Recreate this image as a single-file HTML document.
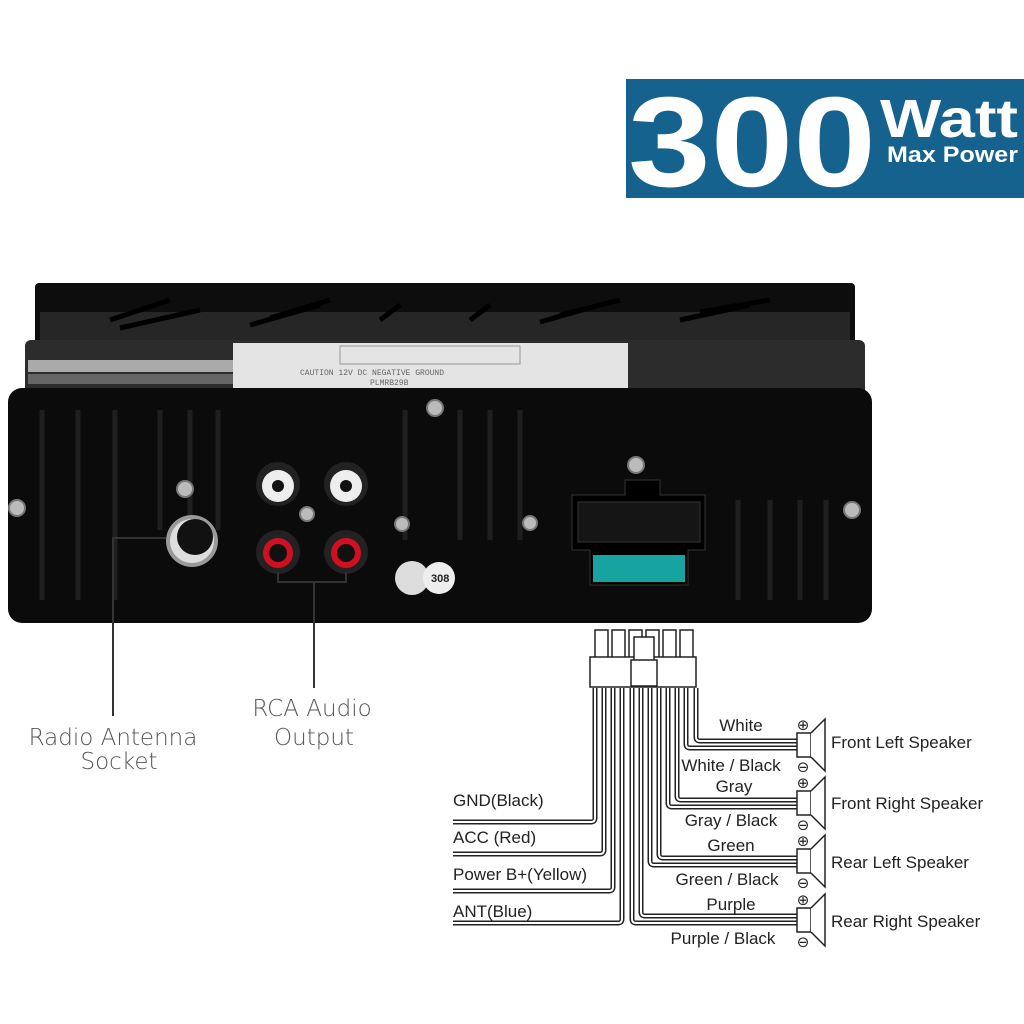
<!DOCTYPE html>
<html><head><meta charset="utf-8"><style>
html,body{margin:0;padding:0;background:#fff;width:1024px;height:1024px;overflow:hidden}
svg{display:block}
.t{font-family:"Liberation Sans",sans-serif;fill:#222;font-size:17px}
.c{font-family:"DejaVu Sans","Liberation Sans",sans-serif;fill:#555;font-size:23px;font-weight:300}
</style></head><body>
<svg width="1024" height="1024" viewBox="0 0 1024 1024" xmlns="http://www.w3.org/2000/svg">
<rect x="626" y="79" width="398" height="119" fill="#15628f"/>
<text x="628" y="186" font-family="Liberation Sans,sans-serif" font-weight="bold" font-size="128" fill="#fff" textLength="248" lengthAdjust="spacingAndGlyphs">300</text>
<text x="880" y="137" font-family="Liberation Sans,sans-serif" font-weight="bold" font-size="54" fill="#fff" textLength="138" lengthAdjust="spacingAndGlyphs">Watt</text>
<text x="887" y="162" font-family="Liberation Sans,sans-serif" font-weight="bold" font-size="22" fill="#fff" textLength="131" lengthAdjust="spacingAndGlyphs">Max Power</text>

<rect x="35" y="283" width="820" height="70" rx="4" fill="#0d0d0d"/>
<path d="M40 312 L850 312 L850 340 L40 340 Z" fill="#262626"/>
<g stroke="#000" stroke-width="5" fill="none">
<path d="M110 320 L170 300 M120 328 L200 310"/><path d="M250 325 L320 305 M270 318 L330 300"/>
<path d="M380 320 L400 305 M470 320 L490 305"/><path d="M540 322 L600 305 M560 315 L620 300"/><path d="M680 320 L750 305 M700 312 L770 300"/>
</g>
<rect x="25" y="340" width="840" height="55" rx="6" fill="#2c2c2c"/>
<rect x="28" y="360" width="205" height="12" fill="#aaa"/>
<rect x="28" y="374" width="205" height="10" fill="#666"/>
<rect x="233" y="343" width="395" height="46" fill="#e4e4e4"/>
<rect x="340" y="346" width="180" height="18" fill="none" stroke="#999"/>
<g font-family="Liberation Mono,monospace" font-size="8" fill="#666"><text x="300" y="375">CAUTION 12V DC NEGATIVE GROUND</text><text x="370" y="385">PLMRB29B</text></g>
<rect x="8" y="388" width="864" height="235" rx="14" fill="#0b0b0b"/>
<g fill="none" stroke="#1f1f1f" stroke-width="5">
<path d="M42 410V600M78 410V600M115 410V600M160 410V530M190 410V530M218 410V530M405 410V540M460 410V540M490 410V540M520 410V540M738 500V600M770 500V600M800 500V600M826 500V600"/>
</g>
<g fill="#bbb" stroke="#777" stroke-width="2">
<circle cx="17" cy="508" r="8"/><circle cx="852" cy="510" r="8"/><circle cx="185" cy="489" r="8"/><circle cx="307" cy="514" r="7"/>
<circle cx="435" cy="408" r="8"/><circle cx="402" cy="524" r="7"/><circle cx="530" cy="523" r="7"/><circle cx="636" cy="465" r="8"/>
</g>
<circle cx="192" cy="541" r="26" fill="#999"/><circle cx="192" cy="541" r="22" fill="#ddd"/><circle cx="195" cy="537" r="18" fill="#111"/>
<g><circle cx="278" cy="484" r="22" fill="#222"/><circle cx="278" cy="486" r="16" fill="#eee"/><circle cx="278" cy="486" r="6" fill="#111"/>
<circle cx="346" cy="484" r="22" fill="#222"/><circle cx="346" cy="486" r="16" fill="#eee"/><circle cx="346" cy="486" r="6" fill="#111"/>
<circle cx="278" cy="552" r="22" fill="#222"/><circle cx="278" cy="553" r="15" fill="#d01020"/><circle cx="278" cy="553" r="9" fill="#111"/>
<circle cx="346" cy="552" r="22" fill="#222"/><circle cx="346" cy="553" r="15" fill="#d01020"/><circle cx="346" cy="553" r="9" fill="#111"/></g>
<circle cx="412" cy="578" r="17" fill="#ddd"/><circle cx="439" cy="578" r="16" fill="#eee"/>
<text x="431" y="582" font-family="Liberation Sans,sans-serif" font-size="11" font-weight="bold" fill="#222">308</text>
<path d="M625 480 H660 V495 H705 V550 H688 V585 H590 V550 H572 V495 H625Z" fill="#000" stroke="#333"/>
<g fill="#151515" stroke="#333"><rect x="578" y="502" width="122" height="40"/></g>
<rect x="593" y="555" width="92" height="27" fill="#17a3a0"/>
<g stroke="#333" stroke-width="2" fill="none">
<path d="M166 538 H113 V716"/><path d="M278 572 V582 H346 V572 M314 582 V688"/>
</g>
<text class="c" x="113" y="745" text-anchor="middle">Radio Antenna</text>
<text class="c" x="119" y="769" text-anchor="middle">Socket</text>
<text class="c" x="312" y="716" text-anchor="middle">RCA Audio</text>
<text class="c" x="314" y="745" text-anchor="middle">Output</text>

<g fill="#fff" stroke="#222" stroke-width="1.5">
<rect x="595" y="630" width="13" height="32"/><rect x="612" y="630" width="13" height="32"/><rect x="629" y="630" width="13" height="32"/><rect x="646" y="630" width="13" height="32"/><rect x="663" y="630" width="13" height="32"/><rect x="680" y="630" width="13" height="32"/>
<rect x="590" y="657" width="106" height="30"/>
<rect x="634" y="637" width="20" height="48"/><rect x="631" y="660" width="26" height="26"/>
</g>
<g fill="none" stroke-linejoin="round">
<g stroke="#222" stroke-width="5">
<path d="M595 688V818Q595 822 591 822H453"/><path d="M604 688V850Q604 854 600 854H453"/><path d="M613 688V887Q613 891 609 891H453"/><path d="M622 688V919Q622 923 618 923H453"/>
<path d="M632 688V919Q632 923 636 923H801"/><path d="M641 688V912Q641 916 645 916H801"/><path d="M650 688V861Q650 865 654 865H801"/><path d="M659 688V854Q659 858 663 858H801"/>
<path d="M668 688V803Q668 807 672 807H801"/><path d="M677 688V796Q677 800 681 800H801"/><path d="M686 688V744Q686 748 690 748H801"/><path d="M696 688V737Q696 741 700 741H801"/>
</g>
<g stroke="#fff" stroke-width="2">
<path d="M595 688V818Q595 822 591 822H453"/><path d="M604 688V850Q604 854 600 854H453"/><path d="M613 688V887Q613 891 609 891H453"/><path d="M622 688V919Q622 923 618 923H453"/>
<path d="M632 688V919Q632 923 636 923H801"/><path d="M641 688V912Q641 916 645 916H801"/><path d="M650 688V861Q650 865 654 865H801"/><path d="M659 688V854Q659 858 663 858H801"/>
<path d="M668 688V803Q668 807 672 807H801"/><path d="M677 688V796Q677 800 681 800H801"/><path d="M686 688V744Q686 748 690 748H801"/><path d="M696 688V737Q696 741 700 741H801"/>
</g>
</g>
<g fill="#fff" stroke="#222" stroke-width="1.5">
<g><rect x="797" y="733" width="14" height="24"/><path d="M811 733 L825 719 V771 L811 757"/></g>
<g transform="translate(0,58)"><rect x="797" y="733" width="14" height="24"/><path d="M811 733 L825 719 V771 L811 757"/></g>
<g transform="translate(0,116)"><rect x="797" y="733" width="14" height="24"/><path d="M811 733 L825 719 V771 L811 757"/></g>
<g transform="translate(0,175)"><rect x="797" y="733" width="14" height="24"/><path d="M811 733 L825 719 V771 L811 757"/></g>
</g>
<g font-family="DejaVu Sans,sans-serif" font-size="15" fill="#222" text-anchor="middle">
<text x="803" y="730">⊕</text><text x="803" y="772">⊖</text>
<text x="803" y="788">⊕</text><text x="803" y="830">⊖</text>
<text x="803" y="846">⊕</text><text x="803" y="888">⊖</text>
<text x="803" y="905">⊕</text><text x="803" y="947">⊖</text>
</g>
<text class="t" x="831" y="748">Front Left Speaker</text>
<text class="t" x="831" y="809">Front Right Speaker</text>
<text class="t" x="831" y="868">Rear Left Speaker</text>
<text class="t" x="831" y="927">Rear Right Speaker</text>
<text class="t" x="741" y="731" text-anchor="middle">White</text>
<text class="t" x="731" y="771" text-anchor="middle">White / Black</text>
<text class="t" x="734" y="792" text-anchor="middle">Gray</text>
<text class="t" x="731" y="826" text-anchor="middle">Gray / Black</text>
<text class="t" x="731" y="851" text-anchor="middle">Green</text>
<text class="t" x="727" y="885" text-anchor="middle">Green / Black</text>
<text class="t" x="731" y="910" text-anchor="middle">Purple</text>
<text class="t" x="723" y="944" text-anchor="middle">Purple / Black</text>
<text class="t" x="453" y="806">GND(Black)</text>
<text class="t" x="453" y="843">ACC (Red)</text>
<text class="t" x="453" y="880">Power B+(Yellow)</text>
<text class="t" x="453" y="917">ANT(Blue)</text>
</svg>
</body></html>
